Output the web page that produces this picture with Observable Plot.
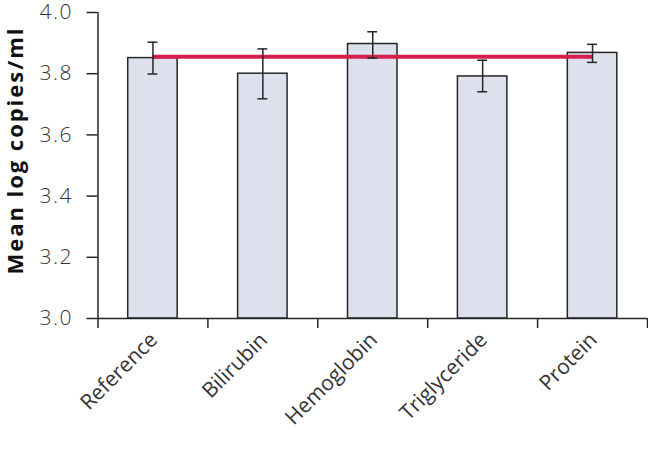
<!DOCTYPE html>
<html>
<head>
<meta charset="utf-8">
<script src="https://cdn.jsdelivr.net/npm/d3@7"></script>
<script src="https://cdn.jsdelivr.net/npm/@observablehq/plot@0.6"></script>
<style>
  html, body { margin: 0; padding: 0; background: #fff; }
  svg { display: block; }
</style>
</head>
<body>
<div id="chart"></div>
<script>
const categories = ["Reference", "Bilirubin", "Hemoglobin", "Triglyceride", "Protein"];
const means = [3.851, 3.800, 3.897, 3.791, 3.868];
const errLow = [3.799, 3.718, 3.851, 3.741, 3.837];
const errHigh = [3.903, 3.881, 3.937, 3.844, 3.896];
const referenceLine = 3.855;
const yTicks = [3.0, 3.2, 3.4, 3.6, 3.8, 4.0];
const yLabel = "Mean log copies/ml";

const data = categories.map((c, i) => ({
  name: c, i, mean: means[i], lo: errLow[i], hi: errHigh[i]
}));

const halfBar = 0.225;
const halfCap = 0.045;
const font = "'Open Sans', 'DejaVu Sans', sans-serif";
const ink = "#262626";

const chart = Plot.plot({
  width: 648,
  height: 449,
  marginLeft: 97.5,
  marginRight: 1,
  marginTop: 12,
  marginBottom: 131,
  style: { fontFamily: font, background: "#fff", color: ink },
  x: { type: "linear", domain: [0, categories.length], axis: null },
  y: { domain: [3.0, 4.0], axis: null },
  marks: [
    Plot.rectY(data, {
      x1: d => d.i + 0.5 - halfBar,
      x2: d => d.i + 0.5 + halfBar,
      y1: 3.0,
      y2: "mean",
      fill: "#dde1ed",
      stroke: ink,
      strokeWidth: 1.5
    }),
    Plot.ruleY([referenceLine], {
      x1: 0.5,
      x2: categories.length - 0.5,
      stroke: "#d31f4a",
      strokeWidth: 4
    }),
    Plot.ruleX(data, { x: d => d.i + 0.5, y1: "lo", y2: "hi", stroke: ink, strokeWidth: 1.5 }),
    Plot.ruleY(data, { y: "lo", x1: d => d.i + 0.5 - halfCap, x2: d => d.i + 0.5 + halfCap, stroke: ink, strokeWidth: 1.5 }),
    Plot.ruleY(data, { y: "hi", x1: d => d.i + 0.5 - halfCap, x2: d => d.i + 0.5 + halfCap, stroke: ink, strokeWidth: 1.5 }),
    Plot.ruleX([0], { y1: 3.0, y2: 4.0, stroke: ink, strokeWidth: 1.5 }),
    Plot.ruleY([3.0], { x1: 0, x2: categories.length, stroke: ink, strokeWidth: 1.5 }),
    Plot.axisY({
      ticks: yTicks,
      tickFormat: d3.format(".1f"),
      tickSize: 11,
      tickPadding: 14,
      fontSize: 21,
      stroke: ink,
      strokeWidth: 1.5,
      label: null,
      color: "#333",
      fontWeight: 300
    }),
    Plot.axisX({
      ticks: d3.range(0, categories.length + 1),
      tickFormat: () => "",
      tickSize: 10,
      stroke: ink,
      strokeWidth: 1.5,
      label: null
    }),
    Plot.text(data, {
      x: d => d.i + 0.5,
      y: 3.0,
      text: "name",
      rotate: -45,
      textAnchor: "end",
      dy: 18,
      dx: 1,
      fontSize: 21,
      fill: "#333"
    })
  ]
});

const svg = d3.select(chart);
svg.selectAll("[aria-label='y-axis tick label'] text").attr("letter-spacing", "1.5px");
svg.append("text")
  .attr("transform", "translate(23,151.5) rotate(-90)")
  .attr("text-anchor", "middle")
  .attr("font-family", font)
  .attr("font-weight", "bold")
  .attr("font-size", 22)
  .attr("fill", "#111")
  .attr("textLength", 246)
  .attr("lengthAdjust", "spacing")
  .text(yLabel);

document.getElementById("chart").appendChild(chart);
</script>
</body>
</html>
